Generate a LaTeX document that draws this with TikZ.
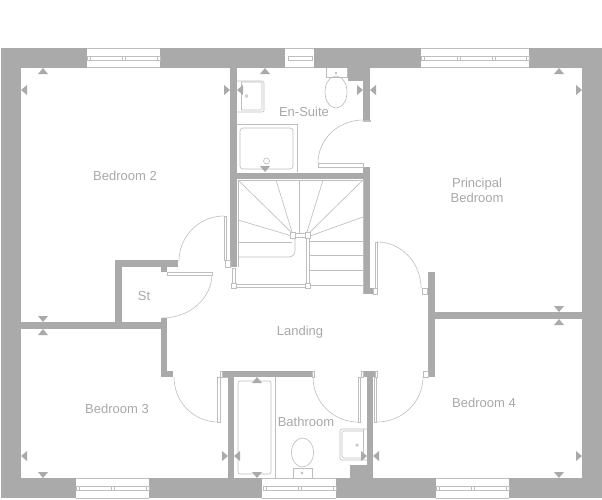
\documentclass[tikz,border=0pt]{standalone}
\usepackage{fontspec}
\setmainfont{Liberation Sans}
\definecolor{muro}{RGB}{170, 170, 170}
\definecolor{trazo}{RGB}{190, 190, 190}
\definecolor{rotulo}{RGB}{168, 168, 168}
\tikzset{
    wall/.style={fill=muro, draw=none},
    thin line/.style={draw=trazo, line width=0.65pt},
    leaf/.style={draw=trazo, fill=white, line width=0.65pt},
    swing/.style={draw=trazo, line width=0.6pt},
    sash/.style={draw=trazo, line width=0.8pt},
    room/.style={text=rotulo, font=\fontsize{13}{15}\selectfont, align=center, inner sep=0pt},
    tip/.pic={\fill[muro] (0,0) -- (5,6) -- (-5,6) -- cycle;},
}
\begin{document}
\begin{tikzpicture}[x=1pt, y=-1pt]
        \useasboundingbox (0,0) rectangle (602,499);

        % outer walls
        \fill [wall] (1,48) rectangle (87,68);
        \fill [wall] (160,48) rectangle (285,68);
        \fill [wall] (314,48) rectangle (421,68);
        \fill [wall] (529,48) rectangle (602,68);
        \fill [wall] (1,478) rectangle (76,498);
        \fill [wall] (149,478) rectangle (262,498);
        \fill [wall] (336,478) rectangle (436,498);
        \fill [wall] (509,478) rectangle (602,498);
        \fill [wall] (1,48) rectangle (21,498);
        \fill [wall] (582,48) rectangle (602,498);

        % inner walls
        \fill [wall] (230,68) rectangle (237,267);
        \fill [wall] (230,172.5) rectangle (370,179);
        \fill [wall] (363,68) rectangle (370,120);
        \fill [wall] (348,68) rectangle (363,81);
        \fill [wall] (363,167) rectangle (370,294);
        \fill [wall] (370,288) rectangle (373.5,294);
        \fill [wall] (115,260) rectangle (178,267);
        \fill [wall] (115,260) rectangle (122,329);
        \fill [wall] (161,267) rectangle (167,272);
        \fill [wall] (21,322) rectangle (167,329);
        \fill [wall] (161,318) rectangle (167,377);
        \fill [wall] (167,371) rectangle (173,377);
        \fill [wall] (428,272) rectangle (435,377);
        \fill [wall] (422,288) rectangle (428,294);
        \fill [wall] (435,312) rectangle (582,319);
        \fill [wall] (222,371) rectangle (313,377);
        \fill [wall] (228,377) rectangle (234,478);
        \fill [wall] (361,371) rectangle (377,377);
        \fill [wall] (367,377) rectangle (373,478);
        \fill [wall] (350,465) rectangle (367,478);

        % windows
        \draw [sash] (87,48) -- (160,48) (87,67.5) -- (160,67.5);
        \draw [thin line] (87,56) rectangle (160,60) (90,56) -- (90,60) (122,56) -- (122,60) (125,56) -- (125,60) (157,56) -- (157,60);
        \draw [sash] (285,48) -- (314,48) (285,67.5) -- (314,67.5);
        \draw [thin line] (288,56) rectangle (312,60);
        \draw [sash] (421,48) -- (529,48) (421,67.5) -- (529,67.5);
        \draw [thin line] (421,56) rectangle (529,60) (424,56) -- (424,60) (457,56) -- (457,60) (460,56) -- (460,60) (492,56) -- (492,60) (495,56) -- (495,60) (526,56) -- (526,60);
        \draw [sash] (76,478.5) -- (149,478.5) (76,498) -- (149,498);
        \draw [thin line] (76,486) rectangle (149,490) (79,486) -- (79,490) (111,486) -- (111,490) (114,486) -- (114,490) (146,486) -- (146,490);
        \draw [sash] (262,478.5) -- (336,478.5) (262,498) -- (336,498);
        \draw [thin line] (263,486) rectangle (336,490) (266,486) -- (266,490) (298,486) -- (298,490) (301,486) -- (301,490) (333,486) -- (333,490);
        \draw [sash] (436,478.5) -- (509,478.5) (436,498) -- (509,498);
        \draw [thin line] (436,486) rectangle (509,490) (439,486) -- (439,490) (471,486) -- (471,490) (474,486) -- (474,490) (506,486) -- (506,490);

        % doors
        \draw [swing] (318,163) arc (180:270:45 and 43);
        \draw [leaf] (318,163) rectangle (363,167);
        \draw [leaf] (363,120) rectangle (370,121);
        \draw [swing] (179,261) arc (180:270:45);
        \draw [leaf] (224,216) rectangle (226.5,260);
        \draw [leaf] (225,260) rectangle (230,267);
        \draw [swing] (212,274) arc (0:90:50 and 44);
        \draw [leaf] (167,272) rectangle (212,275);
        \draw [swing] (377,242) arc (-90:0:44 and 46);
        \draw [leaf] (375,242) rectangle (377,288);
        \draw [leaf] (373.5,288) rectangle (377,294);
        \draw [leaf] (422,288) rectangle (427,294);
        \draw [swing] (174,377) arc (180:90:44 and 45);
        \draw [leaf] (217.5,377) rectangle (220,422);
        \draw [thin line] (217.5,377) -- (228,377);
        \draw [leaf] (220,371) rectangle (222,377);
        \draw [swing] (313,377) arc (180:90:45);
        \draw [leaf] (358.5,377) rectangle (360.5,422);
        \draw [leaf] (312,371) rectangle (314,377);
        \draw [leaf] (361,371) rectangle (363,377);
        \draw [swing] (377,422) arc (90:0:46 and 45);
        \draw [leaf] (374.5,377) rectangle (376.5,422);
        \draw [leaf] (375,371) rectangle (377,377);
        \draw [leaf] (423,371) rectangle (428,377);

        % stairs
        \draw [thin line] (238,180) -- (363,180) -- (363,294);
        \draw [thin line] (238,180) -- (238,267);
        \draw [thin line] (238,180) -- (292,233);
        \draw [thin line] (238,220) -- (292,236);
        \draw [thin line] (276,180) -- (292,232);
        \draw [thin line] (299,180) -- (299,233);
        \draw [thin line] (323,180) -- (307,232);
        \draw [thin line] (363,180) -- (309,233);
        \draw [thin line] (363,217) -- (310,236);
        \draw [thin line] (310,241) -- (363,241);
        \draw [thin line] (310,255) -- (363,255);
        \draw [thin line] (310,270) -- (363,270);
        \draw [thin line] (310,285) -- (363,285);
        \draw [thin line] (238,242) -- (292,242);
        \draw [thin line] (238,257) -- (288,257) .. controls (293,257) and (295,254) .. (295,250) -- (295,238);
        \draw [leaf] (232,268) rectangle (235,283);
        \draw [leaf] (236,284) rectangle (305,287);
        \draw [leaf] (306,238) rectangle (309,283);
        \draw [leaf] (295,233) rectangle (305,237);
        \draw [leaf] (231,283) rectangle (236,288);
        \draw [leaf] (305,283) rectangle (310,288);
        \draw [leaf] (290,232) rectangle (295,238);
        \draw [leaf] (305,232) rectangle (310,238);

        % en-suite fittings
        \draw [thin line, rounded corners=2pt] (237,81) -- (264,81) -- (264,112) -- (237,112);
        \draw [thin line, rounded corners=1.5pt] (241,82) -- (262,82) -- (262,110) -- (241,110);
        \draw [thin line] (241,82) -- (241,110);
        \draw [thin line] (246.5,96) circle (1.3);
        \draw [thin line] (237,124) -- (297,124) -- (297,172);
        \draw [thin line, rounded corners=3pt] (240,128) rectangle (293,169);
        \draw [thin line] (266.5,161) circle (3);
        \draw [thin line] (326,68) -- (326,77) -- (347,77) -- (347,68);
        \draw [thin line] (336,73) circle (0.9);
        \draw [thin line] (336,92) ellipse (11 and 16);

        % bathroom fittings
        \draw [thin line, rounded corners=2pt] (238,381) rectangle (271,474);
        \draw [thin line] (275,377) -- (275,478);
        \draw [thin line] (302.5,452.5) ellipse (11 and 14.5);
        \draw [leaf] (293,468) rectangle (312,478);
        \draw [thin line] (302,473) circle (0.9);
        \draw [thin line, rounded corners=2pt] (367,429) -- (340,429) -- (340,460) -- (367,460);
        \draw [thin line, rounded corners=1.5pt] (363,431) -- (342,431) -- (342,458) -- (363,458);
        \draw [thin line] (363,429) -- (363,460);
        \draw [thin line] (357,445) circle (1.3);

        % dimension marks
        \pic at (43,68) {tip};
        \pic [rotate=90] at (21,90) {tip};
        \pic [rotate=-90] at (230,90) {tip};
        \pic [rotate=90] at (237,90) {tip};
        \pic at (265,68) {tip};
        \pic [rotate=180] at (265,172) {tip};
        \pic [rotate=-90] at (363,90) {tip};
        \pic [rotate=90] at (370,90) {tip};
        \pic at (559,68) {tip};
        \pic [rotate=-90] at (582,90) {tip};
        \pic [rotate=180] at (559,312) {tip};
        \pic at (559,319) {tip};
        \pic [rotate=-90] at (582,456) {tip};
        \pic [rotate=180] at (559,478) {tip};
        \pic [rotate=180] at (43,322) {tip};
        \pic at (43,329) {tip};
        \pic [rotate=90] at (21,456) {tip};
        \pic [rotate=180] at (43,478) {tip};
        \pic at (257,377) {tip};
        \pic [rotate=180] at (257,478) {tip};
        \pic [rotate=-90] at (228,456) {tip};
        \pic [rotate=90] at (234,456) {tip};
        \pic [rotate=-90] at (367,456) {tip};
        \pic [rotate=90] at (373,456) {tip};

        % room names
        \node [room] (bed2) at (125,175.5) {Bedroom 2};
        \node [room] (ensuite) at (304,112) {En-Suite};
        \node [room] (principal) at (477,190) {Principal\\Bedroom};
        \node [room] (store) at (144,296) {St};
        \node [room] (landing) at (300,332) {Landing};
        \node [room] (bed3) at (117,408.5) {Bedroom 3};
        \node [room] (bath) at (306,421.5) {Bathroom};
        \node [room] (bed4) at (484,402.5) {Bedroom 4};
    \end{tikzpicture}
\end{document}
